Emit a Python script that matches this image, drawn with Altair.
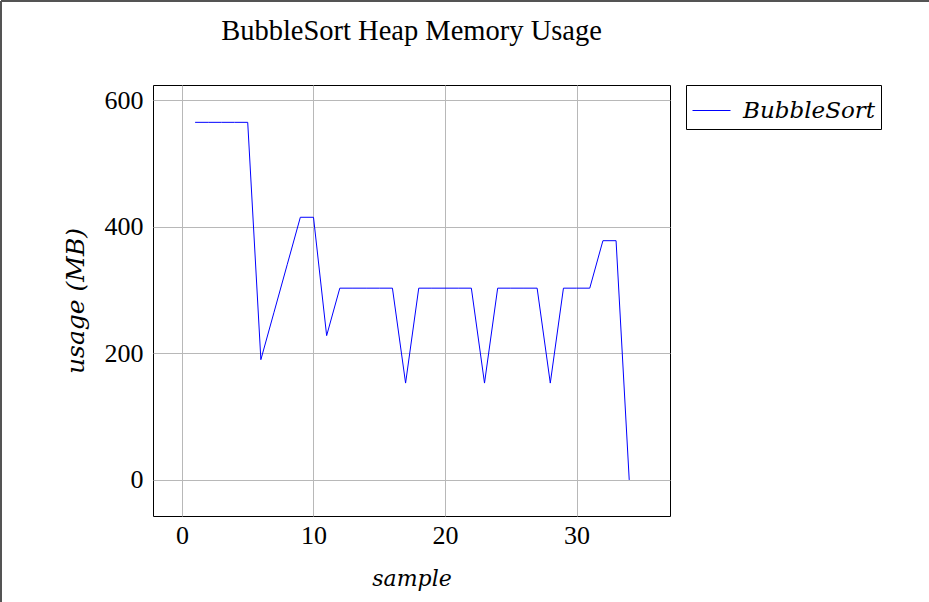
import altair as alt
import pandas as pd

samples = list(range(1, 35))
usage = [565, 565, 565, 565, 565, 190, 265, 340, 415, 415,
         228, 303, 303, 303, 303, 303, 153, 303, 303, 303,
         303, 303, 153, 303, 303, 303, 303, 153, 303, 303,
         303, 378, 378, 0]
series = ["BubbleSort"] * len(samples)

x_ticks = [0, 10, 20, 30]
y_ticks = [0, 200, 400, 600]

df = pd.DataFrame({"sample": samples, "usage": usage, "series": series})

SERIF = "Liberation Serif"
ITAL = "DejaVu Serif"

line = alt.Chart(df).mark_line(strokeWidth=1, clip=True).encode(
    x=alt.X("sample:Q",
            scale=alt.Scale(domain=[-2.2, 37.1], nice=False, zero=False),
            axis=alt.Axis(values=x_ticks, title="sample", grid=True,
                          ticks=False, labelPadding=6, titlePadding=20,
                          titleFont=ITAL, titleFontSize=22,
                          titleFontStyle="italic")),
    y=alt.Y("usage:Q",
            scale=alt.Scale(domain=[-57, 624], nice=False, zero=False),
            axis=alt.Axis(values=y_ticks, title="usage (MB)", grid=True,
                          ticks=False, labelPadding=10, titlePadding=16,
                          titleFont=ITAL, titleFontSize=25,
                          titleFontStyle="italic")),
    color=alt.Color("series:N",
                    scale=alt.Scale(range=["#0000ff"]),
                    legend=alt.Legend(title=None, orient="right", offset=16,
                                      symbolType="stroke", symbolSize=1444,
                                      symbolStrokeWidth=1, labelFont=ITAL,
                                      labelFontStyle="italic", labelFontSize=23,
                                      labelColor="black", labelOffset=12,
                                      strokeColor="black", fillColor="white",
                                      padding=6)),
)

frame_left = alt.Chart(df).mark_rule(color="#555555", strokeWidth=1.5).encode(
    x=alt.value(-152), y=alt.value(-84), y2=alt.value(520))
frame_top = alt.Chart(df).mark_rule(color="#555555", strokeWidth=1.5).encode(
    x=alt.value(-152), x2=alt.value(776), y=alt.value(-84))

chart = alt.layer(line, frame_left, frame_top).properties(
    width=517, height=431,
    background="white",
    padding={"left": 153, "top": 85, "right": 259, "bottom": 86},
    autosize=alt.AutoSizeParams(type="none"),
    title=alt.TitleParams("BubbleSort Heap Memory Usage", font=SERIF,
                          fontSize=28.5, fontWeight="normal", color="black",
                          anchor="middle", frame="group", offset=-45),
).configure_axis(
    labelFont=SERIF, labelFontSize=26, labelColor="black",
    titleFontWeight="normal", titleColor="black",
    gridColor="#b8b8b8", gridWidth=1, gridOpacity=1,
    domain=False,
).configure_view(
    stroke="black", strokeWidth=1,
)

chart.save("out.html", embed_options={"renderer": "svg", "actions": False})
